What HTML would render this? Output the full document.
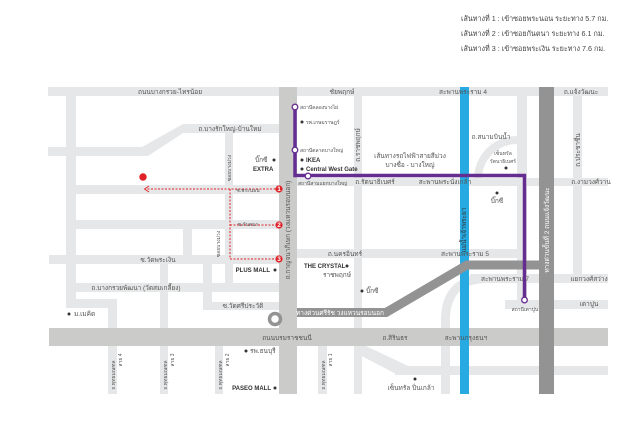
<!DOCTYPE html>
<html><head><meta charset="utf-8"><style>
html,body{margin:0;padding:0;background:#fff;}
svg{display:block;font-family:"Liberation Sans","DejaVu Sans",sans-serif;}
text{fill:#555;font-size:6.5px;}
.s{font-size:5px;}
.b{font-weight:bold;fill:#333;font-size:6px;}
.w{fill:#fff;}
.lg{font-size:7.2px;fill:#444;}
</style></head><body>
<svg width="644" height="425" viewBox="0 0 644 425" xmlns="http://www.w3.org/2000/svg">
<rect width="644" height="425" fill="#fff"/>
<!-- legend -->
<text class="lg" x="461" y="21">เส้นทางที่ 1 : เข้าซอยพระนอน ระยะทาง  5.7 กม.</text>
<text class="lg" x="461" y="36">เส้นทางที่ 2 : เข้าซอยกันตนา ระยะทาง    6.1 กม.</text>
<text class="lg" x="461" y="51">เส้นทางที่ 3 : เข้าซอยพระเงิน ระยะทาง   7.6 กม.</text>

<g fill="#e6e7e8">
<!-- horizontals -->
<rect x="48" y="87" width="560" height="9"/>
<rect x="183" y="124" width="97" height="9"/>
<polygon points="183,124 192,124 192,133 183,133 148,156 142,156 142,147 183,124"/>
<rect x="48" y="147" width="96" height="9"/>
<rect x="66" y="185" width="214" height="9"/>
<rect x="297" y="178" width="311" height="8"/>
<rect x="66" y="220" width="214" height="9"/>
<rect x="49" y="255" width="231" height="9"/>
<rect x="297" y="249" width="230" height="9"/>
<rect x="66" y="283" width="214" height="9"/>
<rect x="203" y="302" width="77" height="8"/>
<rect x="66" y="299" width="51" height="9"/>
<rect x="470" y="274" width="138" height="9"/>
<rect x="505" y="300" width="103" height="9"/>
<rect x="395" y="366" width="213" height="9"/>
<polygon points="354,346 366,346 408,366 408,375 398,375 354,352"/>
<!-- verticals -->
<rect x="66" y="96" width="10" height="212"/>
<rect x="108" y="299" width="9" height="95"/>
<rect x="160" y="258" width="8" height="136"/>
<rect x="183" y="229" width="9" height="30"/>
<rect x="203" y="258" width="9" height="52"/>
<rect x="225" y="133" width="8" height="159"/>
<rect x="215" y="346" width="8" height="48"/>
<rect x="318" y="346" width="9" height="48"/>
<rect x="354" y="96" width="8" height="298"/>
<rect x="517" y="96" width="10" height="206"/>
<rect x="573" y="96" width="9" height="184"/>
</g>
<path d="M517 140 A39 39 0 0 0 478 179" fill="none" stroke="#e6e7e8" stroke-width="8"/>
<path d="M540 278.5 H488 Q445.5 278.5 445.5 320 V394" fill="none" stroke="#e6e7e8" stroke-width="9"/>
<!-- expressway band -->
<rect x="49" y="328" width="559" height="18" fill="#cbcbca"/>
<!-- main vertical -->
<rect x="279" y="87" width="18" height="307" fill="#cbcbca"/>
<!-- river -->
<rect x="460" y="87" width="9" height="307" fill="#27aae1"/>
<!-- dark expressway -->
<path d="M297 312.5 H386 L467 265 H540" fill="none" stroke="#939393" stroke-width="9"/>
<rect x="539" y="87" width="15" height="307" fill="#939393"/>
<!-- ring icon -->
<circle cx="275" cy="319" r="5.5" fill="none" stroke="#939393" stroke-width="3.5"/>
<!-- purple -->
<path d="M295 107 V175.5 H524.5 V300" fill="none" stroke="#662d91" stroke-width="3.5"/>
<g fill="#fff" stroke="#662d91" stroke-width="1.3">
<circle cx="295" cy="107" r="2.8"/><circle cx="295" cy="150" r="2.8"/>
<circle cx="308" cy="176" r="2.8"/><circle cx="524.5" cy="300" r="2.8"/>
</g>
<!-- red routes -->
<g stroke="#e02128" stroke-width="1" stroke-dasharray="2,1.5" fill="none">
<path d="M279 189 H146"/><path d="M230 189 V259"/><path d="M230 225 H279"/><path d="M230 259 H279"/>
</g>
<path d="M149 186 L144.5 189 L149 192" fill="none" stroke="#e02128" stroke-width="0.9"/>
<circle cx="143" cy="177" r="3.7" fill="#e02128"/>
<g fill="#e02128"><circle cx="279" cy="189" r="3.6"/><circle cx="279" cy="225" r="3.6"/><circle cx="279" cy="259" r="3.6"/></g>
<g class="w" font-size="5" font-weight="bold" text-anchor="middle">
<text class="w" x="279" y="191" font-size="5">1</text><text class="w" x="279" y="227" font-size="5">2</text><text class="w" x="279" y="261" font-size="5">3</text>
</g>
<!-- dots -->
<g fill="#333">
<circle cx="274" cy="160" r="1.5"/><circle cx="302" cy="122" r="1.5"/><circle cx="302" cy="160" r="1.5"/><circle cx="302" cy="169" r="1.5"/>
<circle cx="506" cy="168" r="1.5"/><circle cx="497" cy="193" r="1.5"/><circle cx="347" cy="266" r="1.5"/><circle cx="362" cy="291" r="1.5"/>
<circle cx="275" cy="270" r="1.5"/><circle cx="69" cy="314" r="1.5"/><circle cx="246" cy="351" r="1.5"/><circle cx="275" cy="388" r="1.5"/>
<circle cx="415" cy="379" r="1.5"/>
</g>
<!-- labels -->
<g text-anchor="middle">
<text x="170" y="94">ถนนบางกรวย-ไทรน้อย</text>
<text x="230" y="131">ถ.บางรักใหญ่-บ้านใหม่</text>
<text x="248" y="192" class="s">ซ.พระนอน</text>
<text x="248" y="226" class="s">ซ.กันตนา</text>
<text x="158" y="262">ซ.วัดพระเงิน</text>
<text x="136" y="290">ถ.บางกรวยพัฒนา (วัดสมเกลี้ยง)</text>
<text x="243" y="308">ซ.วัดศรีประวัติ</text>
<text x="342" y="94">ชัยพฤกษ์</text>
<text x="463" y="94">สะพานพระราม 4</text>
<text x="581" y="94">ถ.แจ้งวัฒนะ</text>
<text x="410" y="158">เส้นทางรถไฟฟ้าสายสีม่วง</text>
<text x="410" y="167">บางซื่อ - บางใหญ่</text>
<text x="491" y="139">ถ.สนามบินน้ำ</text>
<text x="503" y="155" class="s">เซ็นทรัล</text>
<text x="503" y="163" class="s">รัตนาธิเบศร์</text>
<text x="375" y="184">ถ.รัตนาธิเบศร์</text>
<text x="445" y="184">สะพานพระนั่งเกล้า</text>
<text x="591" y="184">ถ.งามวงศ์วาน</text>
<text x="497" y="203">บิ๊กซี</text>
<text x="345" y="256">ถ.นครอินทร์</text>
<text x="465" y="256">สะพานพระราม 5</text>
<text x="337" y="277">ราชพฤกษ์</text>
<text x="505" y="281">สะพานพระราม 7</text>
<text x="589" y="281">แยกวงศ์สว่าง</text>
<text x="589" y="306">เตาปูน</text>
<text x="525" y="311" class="s">สถานีเตาปูน</text>
<text x="287" y="340">ถนนบรมราชชนนี</text>
<text x="395" y="340">ถ.สิรินธร</text>
<text x="466" y="340">สะพานกรุงธนฯ</text>
<text x="411" y="390">เซ็นทรัล ปิ่นเกล้า</text>
<text x="340" y="315" class="w" font-size="5.5">ทางด่วนศรีรัช วงแหวนรอบนอก</text>
</g>
<text x="255" y="162">บิ๊กซี</text>
<text class="b" x="253" y="171">EXTRA</text>
<text class="s" x="300" y="109">สถานีคลองบางไผ่</text>
<text class="s" x="306" y="124">รพ.เกษมราษฎร์</text>
<text class="s" x="300" y="152">สถานีตลาดบางใหญ่</text>
<text class="b" x="306" y="162">IKEA</text>
<text class="b" x="306" y="171" font-size="5.5">Central West Gate</text>
<text class="s" x="298" y="185">สถานีสามแยกบางใหญ่</text>
<text class="b" x="304" y="268">THE CRYSTAL</text>
<text x="366" y="293">บิ๊กซี</text>
<text class="b" x="270" y="272" text-anchor="end">PLUS MALL</text>
<text class="b" x="271" y="390" text-anchor="end">PASEO MALL</text>
<text x="74" y="316">ม.เมคิด</text>
<text x="250" y="353">รพ.ธนบุรี</text>
<!-- vertical labels -->
<g text-anchor="middle">
<text transform="translate(360,145) rotate(-90)">ถ.ราชพฤกษ์</text>
<text transform="translate(580,150) rotate(-90)">ถ.ประชาชื่น</text>
<text transform="translate(466,230) rotate(-90)" fill="#333" style="fill:#333">แม่น้ำเจ้าพระยา</text>
<text class="w" transform="translate(549,230) rotate(-90)">ทางด่วนขั้นที่ 2 ถนนแจ้งวัฒนะ</text>
<text transform="translate(290,230) rotate(-90)">ถ.กาญจนาภิเษก (วงแหวนรอบนอก)</text>
<text transform="translate(231,168) rotate(-90)" class="s">ซอยบางม่วง</text>
<text transform="translate(220,244) rotate(-90)" class="s">ซอยบางม่วง</text>
<text transform="translate(115,375) rotate(-90)" class="s">ถ.พุทธมณฑล</text>
<text transform="translate(122,360) rotate(-90)" class="s">สาย 4</text>
<text transform="translate(167,375) rotate(-90)" class="s">ถ.พุทธมณฑล</text>
<text transform="translate(174,360) rotate(-90)" class="s">สาย 3</text>
<text transform="translate(222,375) rotate(-90)" class="s">ถ.พุทธมณฑล</text>
<text transform="translate(229,360) rotate(-90)" class="s">สาย 2</text>
<text transform="translate(325,375) rotate(-90)" class="s">ถ.พุทธมณฑล</text>
<text transform="translate(332,360) rotate(-90)" class="s">สาย 1</text>
</g>
</svg>
</body></html>
